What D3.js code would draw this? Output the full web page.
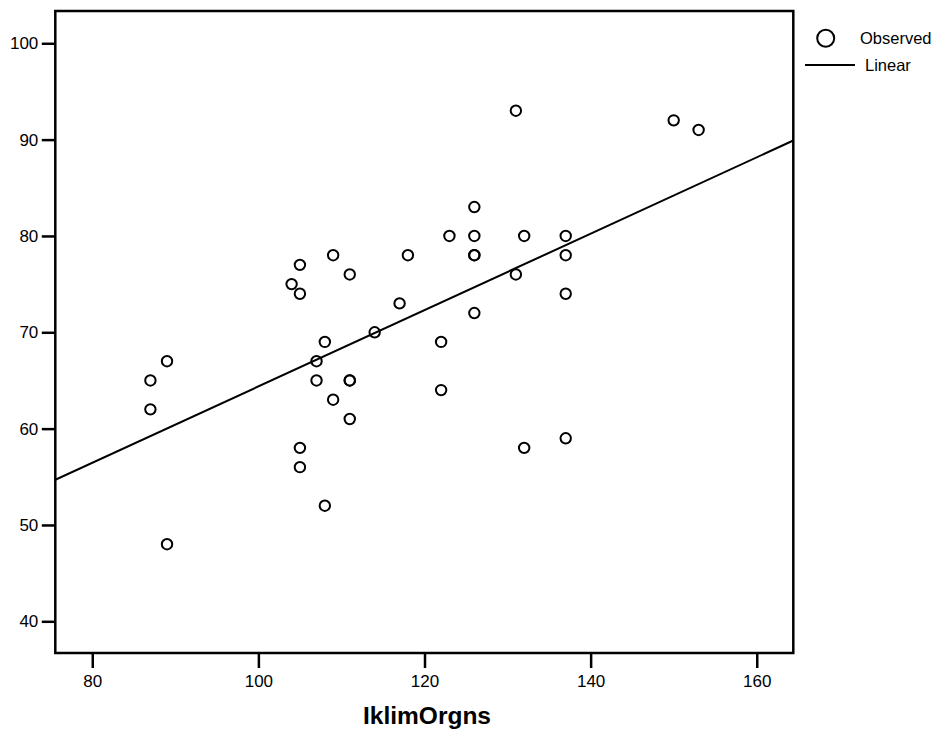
<!DOCTYPE html>
<html>
<head>
<meta charset="utf-8">
<script src="https://cdn.jsdelivr.net/npm/d3@7/dist/d3.min.js"></script>
<style>
  html, body { margin: 0; padding: 0; background: #fff; }
  svg { display: block; font-family: "Liberation Sans", Arial, sans-serif; }
</style>
</head>
<body>
<svg id="chart" width="944" height="734"></svg>
<script>
// ---- data ----
const xValues = [87, 87, 89, 89, 104, 105, 105, 105, 105, 109, 111, 107, 107, 108, 108, 109, 111, 111, 111, 114,
                 117, 118, 122, 122, 123, 126, 126, 126, 126, 126, 131, 131, 132, 132, 137, 137, 137, 137, 150, 153];
const yValues = [65, 62, 67, 48, 75, 77, 74, 58, 56, 78, 76, 67, 65, 69, 52, 63, 65, 65, 61, 70,
                 73, 78, 69, 64, 80, 83, 80, 78, 78, 72, 93, 76, 80, 58, 80, 78, 74, 59, 92, 91];
const xTicks = [80, 100, 120, 140, 160];
const yTicks = [40, 50, 60, 70, 80, 90, 100];
const xTitle = "IklimOrgns";
const legendLabels = ["Observed", "Linear"];

// ---- layout ----
const plot = { left: 55.3, right: 793.3, top: 11, bottom: 653 };
const svg = d3.select("#chart");

const x = d3.scaleLinear().domain([75.55, 164.4]).range([plot.left, plot.right]);
const y = d3.scaleLinear().domain([36.71, 103.35]).range([plot.bottom, plot.top]);

// least squares fit
const n = xValues.length;
const mx = d3.mean(xValues), my = d3.mean(yValues);
let sxy = 0, sxx = 0;
for (let i = 0; i < n; i++) { sxy += (xValues[i] - mx) * (yValues[i] - my); sxx += (xValues[i] - mx) ** 2; }
const slope = sxy / sxx, intercept = my - slope * mx;

// clip
svg.append("clipPath").attr("id", "clip").append("rect")
  .attr("x", plot.left).attr("y", plot.top)
  .attr("width", plot.right - plot.left).attr("height", plot.bottom - plot.top);

// regression line
const xd = x.domain();
svg.append("line")
  .attr("clip-path", "url(#clip)")
  .attr("x1", x(xd[0])).attr("y1", y(intercept + slope * xd[0]))
  .attr("x2", x(xd[1])).attr("y2", y(intercept + slope * xd[1]))
  .attr("stroke", "#000").attr("stroke-width", 2);

// points
svg.append("g").selectAll("circle")
  .data(xValues.map((v, i) => [v, yValues[i]]))
  .join("circle")
  .attr("cx", d => x(d[0])).attr("cy", d => y(d[1]))
  .attr("r", 5.2)
  .attr("fill", "none").attr("stroke", "#000").attr("stroke-width", 2);

// frame
svg.append("rect")
  .attr("x", plot.left).attr("y", plot.top)
  .attr("width", plot.right - plot.left).attr("height", plot.bottom - plot.top)
  .attr("fill", "none").attr("stroke", "#000").attr("stroke-width", 2.5);

// x axis
const gx = svg.append("g").attr("transform", `translate(0,${plot.bottom})`)
  .call(d3.axisBottom(x).tickValues(xTicks).tickSizeInner(15).tickSizeOuter(0).tickPadding(7));
gx.select(".domain").remove();
gx.selectAll(".tick line").attr("stroke", "#000").attr("stroke-width", 2.5);
gx.selectAll(".tick text").attr("font-size", 17).attr("fill", "#000")
  .attr("font-family", "'Liberation Sans', Arial, sans-serif");

// y axis
const gy = svg.append("g").attr("transform", `translate(${plot.left},0)`)
  .call(d3.axisLeft(y).tickValues(yTicks).tickSizeInner(13.5).tickSizeOuter(0).tickPadding(3.5));
gy.select(".domain").remove();
gy.selectAll(".tick line").attr("stroke", "#000").attr("stroke-width", 2.5);
gy.selectAll(".tick text").attr("font-size", 17).attr("fill", "#000")
  .attr("font-family", "'Liberation Sans', Arial, sans-serif");

// x title
svg.append("text")
  .attr("x", 427).attr("y", 724)
  .attr("text-anchor", "middle")
  .attr("font-size", 24.5).attr("font-weight", "bold")
  .text(xTitle);

// legend
const lg = svg.append("g");
lg.append("circle").attr("cx", 825.7).attr("cy", 38.3).attr("r", 8.5)
  .attr("fill", "none").attr("stroke", "#000").attr("stroke-width", 2);
lg.append("text").attr("x", 860).attr("y", 44).attr("font-size", 16.5).text(legendLabels[0]);
lg.append("line").attr("x1", 805).attr("x2", 855).attr("y1", 65).attr("y2", 65)
  .attr("stroke", "#000").attr("stroke-width", 2);
lg.append("text").attr("x", 865).attr("y", 71).attr("font-size", 16.5).text(legendLabels[1]);
</script>
</body>
</html>
